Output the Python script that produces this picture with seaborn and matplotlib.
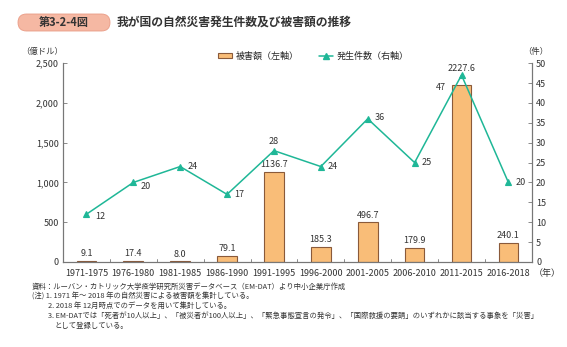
import matplotlib
matplotlib.use("Agg")
import matplotlib.pyplot as plt
import matplotlib.transforms as mtransforms
import seaborn as sns
import pandas as pd
from matplotlib.patches import FancyBboxPatch, Patch
from matplotlib.lines import Line2D

periods = ["1971-1975", "1976-1980", "1981-1985", "1986-1990", "1991-1995",
           "1996-2000", "2001-2005", "2006-2010", "2011-2015", "2016-2018"]
damage = [9.1, 17.4, 8.0, 79.1, 1136.7, 185.3, 496.7, 179.9, 2227.6, 240.1]
counts = [12, 20, 24, 17, 28, 24, 36, 25, 47, 20]
left_ticks = [0, 500, 1000, 1500, 2000, 2500]
right_ticks = list(range(0, 51, 5))

sns.set_theme(style="white")
plt.rcParams['font.family'] = ['Noto Sans CJK JP', 'DejaVu Sans']

BAR = "#F9BD78"
EDGE = "#8A5A3A"
LINE = "#1FB797"
TXT = "#333333"
GRAY = "#777777"

df = pd.DataFrame({"period": periods, "damage": damage, "count": counts})

fig = plt.figure(figsize=(5.67, 3.47), dpi=100)
ax = fig.add_axes([0.111, 0.245, 0.827, 0.573])
sns.barplot(data=df, x="period", y="damage", order=periods, color=BAR,
            edgecolor=EDGE, linewidth=0.8, width=0.42, saturation=1, ax=ax)
ax.set_ylim(0, 2500)
ax.set_xlim(-0.5, len(periods) - 0.5)
ax.set_yticks(left_ticks)
ax.set_yticklabels([f"{v:,}" for v in left_ticks])
ax.set_xlabel("")
ax.set_ylabel("")
ax.tick_params(axis="y", direction="in", length=3, width=0.6, colors=GRAY,
               labelcolor=TXT, labelsize=6.5, pad=3)
ax.set_xticks(range(len(periods)))
ax.set_xticklabels(periods)
ax.tick_params(axis="x", length=0, labelsize=6.5, labelcolor=TXT, pad=5)
for b in [i + 0.5 for i in range(len(periods) - 1)]:
    ax.plot([b, b], [0, 40], color=GRAY, lw=0.6, clip_on=False)

for i, v in enumerate(damage):
    extra = 150 if i == 8 else 35
    ax.text(i, v + extra, f"{v:.1f}", ha="center", va="bottom", fontsize=6.5, color=TXT)

ax2 = ax.twinx()
sns.pointplot(data=df, x="period", y="count", order=periods, color=LINE,
              markers="^", markersize=4, linewidth=1.1, ax=ax2)
ax2.set_ylim(0, 50)
ax2.set_yticks(right_ticks)
ax2.set_ylabel("")
ax2.set_xlabel("")
ax2.tick_params(axis="y", direction="in", length=3, width=0.6, colors=GRAY,
                labelcolor=TXT, labelsize=6.5, pad=3)
ax2.set_xlim(-0.5, len(periods) - 0.5)

offsets = {0: (0.18, -0.5, "left"), 1: (0.15, -0.9, "left"), 2: (0.15, 0, "left"),
           3: (0.15, 0, "left"), 4: (0, 2.3, "center"), 5: (0.15, 0, "left"),
           6: (0.15, 0.3, "left"), 7: (0.15, 0, "left"), 8: (-0.33, -3.0, "right"),
           9: (0.15, 0, "left")}
for i, v in enumerate(counts):
    dx, dy, ha = offsets[i]
    ax2.text(i + dx, v + dy, f"{v}", ha=ha, va="center", fontsize=6.5, color=TXT)

for a in (ax, ax2):
    for s in ["left", "right", "bottom"]:
        a.spines[s].set_color(GRAY)
        a.spines[s].set_linewidth(0.8)
    a.spines["top"].set_visible(False)

# unit labels
fig.text(0.075, 0.852, "（億ドル）", fontsize=6, color=TXT, ha="center", va="center")
fig.text(0.945, 0.852, "（件）", fontsize=6, color=TXT, ha="center", va="center")
fig.text(0.966, 0.212, "（年）", fontsize=6.5, color=TXT, ha="center", va="center")

# legend
handles = [Patch(facecolor=BAR, edgecolor=EDGE, linewidth=0.8, label="被害額（左軸）"),
           Line2D([0], [0], color=LINE, marker="^", markersize=4, lw=1.1, label="発生件数（右軸）")]
fig.legend(handles=handles, loc="center left", bbox_to_anchor=(0.37, 0.838), ncol=2,
           frameon=False, fontsize=6.5, handlelength=1.6, handleheight=0.6,
           columnspacing=2.2, handletextpad=0.4)

# title box in pixel coordinates
box = FancyBboxPatch((18, 347 - 31), 92, 17, boxstyle="round,pad=0,rounding_size=8.5",
                     transform=mtransforms.IdentityTransform(), facecolor="#F5B8A3",
                     edgecolor="#E99B85", lw=0.6)
fig.patches.append(box)
fig.text(64 / 567, 1 - 22.5 / 347, "第3-2-4図", fontsize=8, fontweight="bold", color=TXT,
         ha="center", va="center")
fig.text(117 / 567, 1 - 22.5 / 347, "我が国の自然災害発生件数及び被害額の推移", fontsize=8.5,
         fontweight="bold", color=TXT, ha="left", va="center")

# footnotes
notes = [
    (32, 287, "資料：ルーバン・カトリック大学疫学研究所災害データベース（EM-DAT）より中小企業庁作成"),
    (32, 296.5, "(注) 1. 1971 年～ 2018 年の自然災害による被害額を集計している。"),
    (48, 306, "2. 2018 年 12月時点でのデータを用いて集計している。"),
    (48, 316, "3. EM-DATでは「死者が10人以上」、「被災者が100人以上」、「緊急事態宣言の発令」、「国際救援の要請」のいずれかに該当する事象を「災害」"),
    (54, 326, "として登録している。"),
]
for x, y, t in notes:
    fig.text(x / 567, 1 - y / 347, t, fontsize=5.3, color=TXT, ha="left", va="center")

fig.savefig("out.png", dpi=100)
